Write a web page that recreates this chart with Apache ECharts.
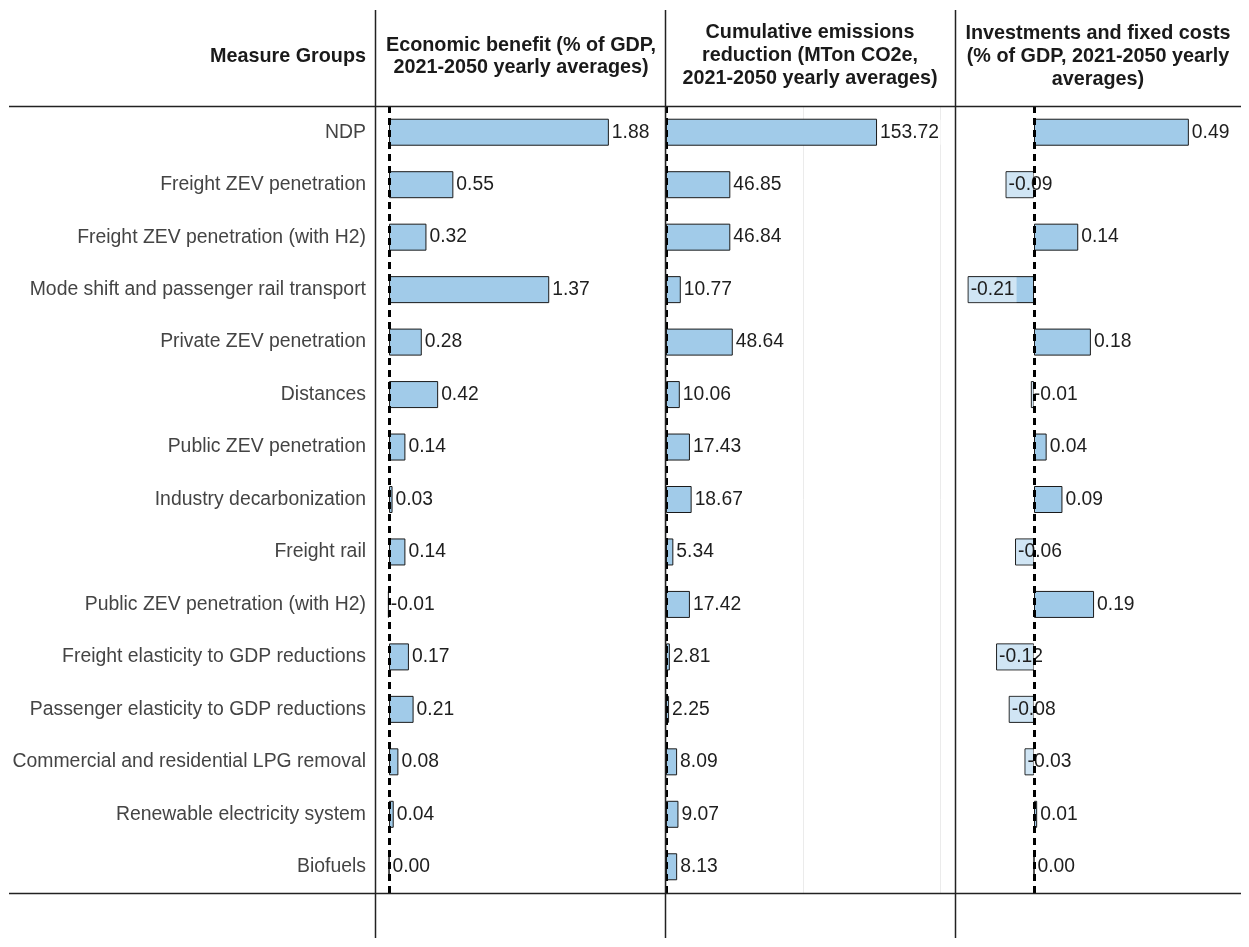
<!DOCTYPE html>
<html>
<head>
<meta charset="utf-8">
<script src="https://cdn.jsdelivr.net/npm/echarts@6/dist/echarts.min.js"></script>
<style>
html,body{margin:0;padding:0;background:#fff;}
#chart{width:1249px;height:947px;}
</style>
</head>
<body>
<div id="chart"></div>
<script>
const categories = [
  'NDP',
  'Freight ZEV penetration',
  'Freight ZEV penetration (with H2)',
  'Mode shift and passenger rail transport',
  'Private ZEV penetration',
  'Distances',
  'Public ZEV penetration',
  'Industry decarbonization',
  'Freight rail',
  'Public ZEV penetration (with H2)',
  'Freight elasticity to GDP reductions',
  'Passenger elasticity to GDP reductions',
  'Commercial and residential LPG removal',
  'Renewable electricity system',
  'Biofuels'
];
const economicBenefit = [1.88, 0.55, 0.32, 1.37, 0.28, 0.42, 0.14, 0.03, 0.14, -0.01, 0.17, 0.21, 0.08, 0.04, 0.00];
const emissionsReduction = [153.72, 46.85, 46.84, 10.77, 48.64, 10.06, 17.43, 18.67, 5.34, 17.42, 2.81, 2.25, 8.09, 9.07, 8.13];
const investments = [0.49, -0.09, 0.14, -0.21, 0.18, -0.01, 0.04, 0.09, -0.06, 0.19, -0.12, -0.08, -0.03, 0.01, 0.00];
const headers = [
  'Measure Groups',
  'Economic benefit (% of GDP,\n2021-2050 yearly averages)',
  'Cumulative emissions\nreduction (MTon CO2e,\n2021-2050 yearly averages)',
  'Investments and fixed costs\n(% of GDP, 2021-2050 yearly\naverages)'
];

const FONT = '"Liberation Sans", Arial, sans-serif';
const BAR = '#a1cbe9';
const chart = echarts.init(document.getElementById('chart'), null, {renderer: 'canvas'});

const TOP = 106, HEIGHT = 787;
const panels = [
  {left: 375, width: 290, min: -0.12, max: 2.36, data: economicBenefit, split: false},
  {left: 666, width: 289, min: 0, max: 210.5, data: emissionsReduction, split: true},
  {left: 955, width: 286, min: -0.25, max: 0.655, data: investments, split: false}
];

const grids = panels.map(p => ({left: p.left, width: p.width, top: TOP, height: HEIGHT, containLabel: false, outerBoundsMode: 'none'}));
const xAxes = panels.map((p, i) => ({
  type: 'value', gridIndex: i, min: p.min, max: p.max,
  interval: p.split ? 100 : undefined,
  axisLine: {show: false}, axisTick: {show: false}, axisLabel: {show: false},
  splitLine: {show: p.split, lineStyle: {color: '#ebebeb', width: 1}}
}));
const yAxes = panels.map((p, i) => ({
  type: 'category', gridIndex: i, data: categories, inverse: true,
  axisLine: {show: false}, axisTick: {show: false},
  axisLabel: {show: i === 0, margin: 9, fontSize: 19.4, fontFamily: FONT, color: '#444'},
  splitLine: {show: false}
}));
const series = panels.map((p, i) => ({
  type: 'bar', xAxisIndex: i, yAxisIndex: i, barWidth: 27,
  data: p.data.map(v => ({
    value: v,
    label: v < 0 ? {position: 'insideLeft', distance: 1} : {position: 'right', distance: 1}
  })),
  itemStyle: {color: BAR, borderColor: '#1a1a1a', borderWidth: 1},
  label: {
    show: true, fontSize: 19.3, fontFamily: FONT, color: '#1e1e1e',
    formatter: d => d.value.toFixed(2),
    backgroundColor: 'rgba(255,255,255,0.5)', padding: [3, 2]
  },
  markLine: {
    silent: true, symbol: 'none', label: {show: false},
    lineStyle: {color: '#000', width: 3, type: [7, 5]},
    data: [{xAxis: 0}]
  }
}));

const lineStyle = {stroke: '#222', lineWidth: 1.5};
const HF = 'bold 19.8px ' + FONT;
const graphic = [
  {type: 'line', shape: {x1: 375.5, y1: 10, x2: 375.5, y2: 938}, style: lineStyle, z: 100},
  {type: 'line', shape: {x1: 665.5, y1: 10, x2: 665.5, y2: 938}, style: lineStyle, z: 100},
  {type: 'line', shape: {x1: 955.5, y1: 10, x2: 955.5, y2: 938}, style: lineStyle, z: 100},
  {type: 'line', shape: {x1: 9, y1: 106.5, x2: 1241, y2: 106.5}, style: lineStyle, z: 100},
  {type: 'line', shape: {x1: 9, y1: 893.5, x2: 1241, y2: 893.5}, style: lineStyle, z: 100},
  {type: 'text', x: 366, y: 57, style: {text: headers[0], align: 'right', verticalAlign: 'middle', font: HF, fill: '#1a1a1a'}},
  {type: 'text', x: 521, y: 57, style: {text: headers[1], align: 'center', verticalAlign: 'middle', font: HF, fill: '#1a1a1a', lineHeight: 22}},
  {type: 'text', x: 810, y: 56, style: {text: headers[2], align: 'center', verticalAlign: 'middle', font: HF, fill: '#1a1a1a', lineHeight: 23}},
  {type: 'text', x: 1098, y: 57, style: {text: headers[3], align: 'center', verticalAlign: 'middle', font: HF, fill: '#1a1a1a', lineHeight: 23}}
];

chart.setOption({
  backgroundColor: '#fff',
  animation: false,
  grid: grids,
  xAxis: xAxes,
  yAxis: yAxes,
  series: series,
  graphic: graphic
});
</script>
</body>
</html>
